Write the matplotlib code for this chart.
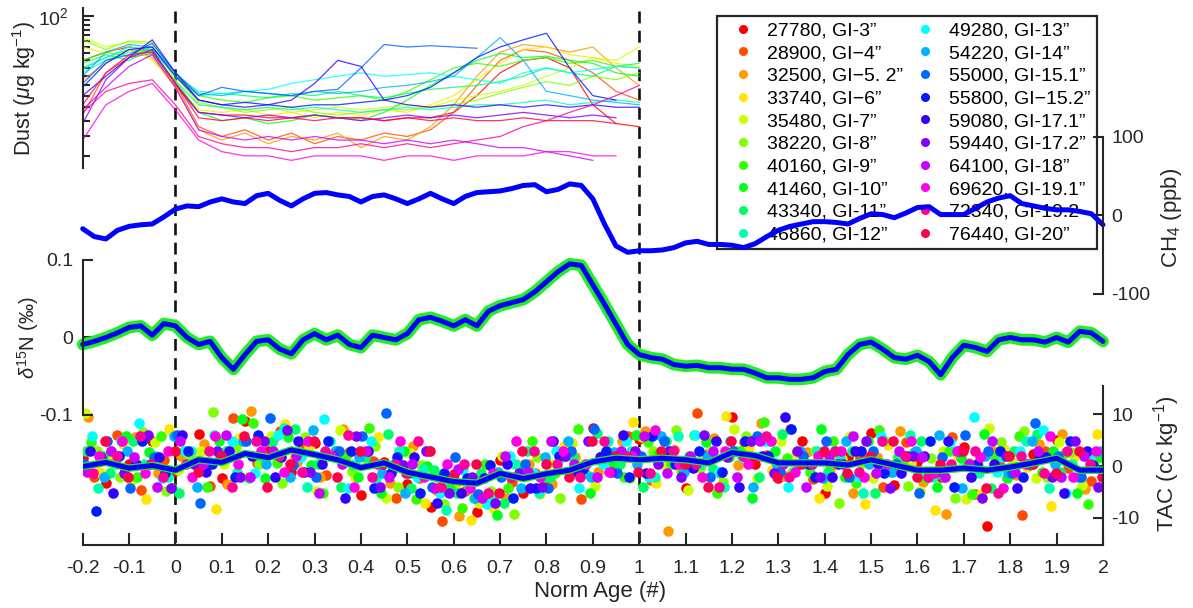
import numpy as np
import matplotlib
matplotlib.use('Agg')
import matplotlib.pyplot as plt
from matplotlib.lines import Line2D
from matplotlib.ticker import NullFormatter, FixedLocator, LogLocator
import colorsys

plt.rcParams['font.family'] = ['Liberation Sans', 'DejaVu Sans']
plt.rcParams['axes.unicode_minus'] = False
plt.rcParams['mathtext.fontset'] = 'custom'
plt.rcParams['mathtext.rm'] = 'Liberation Sans'
plt.rcParams['mathtext.it'] = 'Liberation Sans:italic'
plt.rcParams['mathtext.bf'] = 'Liberation Sans:bold'

# ---------------- data ----------------
gi_labels = ['27780, GI-3\u201d', '28900, GI\u22124\u201d', '32500, GI\u22125. 2\u201d', '33740, GI\u22126\u201d',
             '35480, GI-7\u201d', '38220, GI-8\u201d', '40160, GI-9\u201d', '41460, GI-10\u201d',
             '43340, GI-11\u201d', '46860, GI-12\u201d', '49280, GI-13\u201d', '54220, GI-14\u201d',
             '55000, GI-15.1\u201d', '55800, GI\u221215.2\u201d', '59080, GI-17.1\u201d', '59440, GI-17.2\u201d',
             '64100, GI-18\u201d', '69620, GI-19.1\u201d', '72340, GI-19.2', '76440, GI-20\u201d']

# Dust (ug/kg), age grid -0.2 ... 1.0 step 0.05
dust_age = np.round(np.arange(-0.2, 1.0001, 0.05), 3)
N = None
dust_values = [
    [60, 66, 70, 67, 45, 33, 32, 32, 31, 31, 32, 31, 31, 30, 31, 31, 33, 40, 52, 60, 62, 55, 36, 29, 28],
    [32, 52, 62, 65, 46, 28, 25, 27, 24, 26, 23, 25, 24, 26, 25, 27, 33, 45, 60, 68, 66, 60, 52, 42, 38],
    [48, 58, 68, 62, 44, 27, 24, 26, 23, 25, 24, 26, 22, 25, 24, 28, 36, 50, 66, 72, 70, 66, 70, 55, 45],
    [70, 65, 72, 60, 46, 34, 33, 34, 32, 33, 31, 33, 32, 34, 33, 36, 40, 48, 58, 68, 70, 64, 62, 58, 56],
    [78, 70, 74, 72, 48, 36, 35, 34, 35, 33, 34, 35, 34, 35, 36, 35, 38, 40, 42, 45, 50, 55, 62, 60, 70],
    [76, 68, 75, 74, 50, 37, 35, 33, 34, 35, 33, 32, 33, 34, 34, 35, 36, 38, 41, 44, 47, 45, 50, 48, 52],
    [60, 66, 63, 70, 50, 40, 38, 37, 39, 40, 38, 39, 40, 38, 42, 48, 55, 58, 56, 60, 62, 58, 60, 56, 55],
    [55, 62, 68, 66, 47, 33, 30, 31, 29, 30, 32, 31, 30, 33, 38, 45, 52, 60, 65, 62, 63, 60, 58, 52, 50],
    [58, 64, 60, 68, 50, 40, 41, 40, 39, 41, 40, 42, 40, 39, 41, 43, 44, 45, 47, 50, 55, 52, 50, 56, 58],
    [52, 60, 66, 64, 47, 36, 35, 34, 35, 34, 35, 34, 33, 34, 35, 34, 35, 36, 36, 37, 38, 36, 37, 38, 37],
    [54, 62, 70, 68, 50, 42, 41, 42, 43, 46, 48, 50, 52, 50, 51, 52, 50, 48, 46, 52, 55, 52, 54, 56, 55],
    [50, 66, 72, 70, 52, 41, 40, 42, 41, 40, 42, 41, 42, 44, 45, 47, 50, 62, 78, 60, 42, 40, 38, 37, 36],
    [46, 60, 64, 73, 52, 40, 44, 42, 41, 40, 42, 43, 55, 72, 70, 71, 70, 69, N, N, N, N, N, N, N],
    [44, 58, 68, 70, 50, 38, 36, 37, 36, 35, 36, 36, 37, 38, 40, 44, 52, 62, 70, 76, 82, 55, 40, 38, N],
    [40, 50, 62, 76, 52, 38, 36, 35, 36, 38, 46, 60, 56, 38, 36, 35, 36, 35, 36, 35, 36, 35, 36, 35, 35],
    [29, 48, 62, 68, 46, 33, 32, 31, 32, 31, 32, 31, 30, 31, 32, 31, 32, 31, 32, 33, 32, 31, 32, 31, N],
    [34, 44, 56, 64, 44, 27, 25, 24, 25, 24, 25, 24, 24, 23, 24, 23, 24, 23, 22, 22, 21, 20, 19, N, N],
    [24, 36, 42, 46, 34, 24, 21, 20, 20, 19, 20, 20, 20, 19, 20, 20, 19, 20, 20, 20, 21, 21, 20, 20, N],
    [33, 42, 46, 48, 36, 25, 23, 22, 22, 21, 22, 22, 23, 22, 23, 22, 23, 24, 25, 28, 30, 33, 36, 40, 45],
    [36, 52, 64, 66, 46, 31, 30, 31, 30, 31, 30, 31, 31, 30, 31, 30, 31, 30, 30, 31, 30, 30, 30, 29, N],
]

# CH4 anomaly (ppb), age grid -0.2 ... 2.0 step 0.025
ch4_age = np.round(np.arange(-0.2, 2.0001, 0.025), 3)
ch4_values = [-17, -27, -30, -19, -14, -12, -11, -2, 8,
              12, 11, 17, 21, 17, 15, 25, 28, 19, 12, 21, 28, 29, 26, 24, 17, 24, 26, 21, 15,
              21, 28, 21, 15, 24, 29, 30, 31, 34, 38, 39, 30, 33, 40, 38, 21, -11, -39, -47, -45,
              -45, -44, -41, -35, -33, -37, -37, -38, -41, -36, -27, -19, -14, -11, -8, -8, -9, -11, -4, 2,
              1, -3, 3, 10, 11, 1, 1, 1, 9, 17, 22, 25, 15, 12, 9, 7, 7, 5, 2, -12]

# d15N anomaly (permil), age grid -0.2 ... 2.0 step 0.025
d15n_age = np.round(np.arange(-0.2, 2.0001, 0.025), 3)
d15n_values = [-0.009, -0.005, 0.000, 0.006, 0.013, 0.015, 0.003, 0.018, 0.015,
               0.000, -0.009, -0.005, -0.026, -0.041, -0.022, -0.005, -0.003, -0.015, -0.021,
               -0.003, 0.005, -0.003, 0.003, -0.009, -0.013, 0.003, 0.000, -0.003, 0.005,
               0.023, 0.026, 0.021, 0.015, 0.023, 0.015, 0.034, 0.041, 0.045, 0.049,
               0.059, 0.072, 0.085, 0.095, 0.093, 0.068, 0.043, 0.017, -0.009, -0.022,
               -0.026, -0.028, -0.035, -0.037, -0.036, -0.039, -0.039, -0.041, -0.041, -0.046,
               -0.052, -0.052, -0.054, -0.054, -0.052, -0.044, -0.041, -0.022, -0.009, -0.006,
               -0.015, -0.026, -0.028, -0.023, -0.031, -0.048, -0.026, -0.010, -0.013, -0.018,
               -0.003, 0.000, -0.003, -0.003, -0.006, 0.000, -0.006, 0.008, 0.006, -0.005]

# TAC stack (cc/kg), age grid -0.2 ... 2.0 step 0.05
tac_line_age = np.round(np.arange(-0.2, 2.0001, 0.05), 3)
tac_line_values = [-0.1, 0.7, -0.4, 0.1, -0.8, 1.2, 0.7, 2.4, 1.6, 3.1, 2.2, 1.2, -0.3, 0.6, -1.2,
                   -2.1, -3.0, -3.3, -1.4, -2.4, -1.5, -0.8, 0.8, 1.5, 1.2, 1.5, 1.2, 0.6, 2.6, 2.0,
                   0.6, 0.6, 0.6, 0.2, 1.2, 0.2, -0.8, -0.8, -0.4, -0.8, -0.2, 0.6, 1.5, -0.8, -0.8]

# individual TAC samples per event (cc/kg), sample grid -0.2 ... 1.95 step 0.05 (+ event age offset)
tac_age = np.round(np.arange(-0.2, 1.9501, 0.05), 3)
tac_offset = [0.000, 0.025, 0.012, 0.037, 0.005, 0.030, 0.018, 0.043, 0.008, 0.033,
              0.021, 0.046, 0.003, 0.028, 0.015, 0.040, 0.010, 0.035, 0.023, 0.048]
tac_values = [
    [1.5, -3.2, 0.4, 4.8, -0.9, 6.1, -2.3, 8.7, 2.9, -1.1, 4.4, 1.8, -5.6, 0.7, -3.4, -7.9, -1.6, -8.8, 1.2, -5.1, -2.7, 3.3, 7.4, -0.6, 5.2, 2.1, -4.3, 2.6, 9.5, 0.3, -2.4, 4.9, -5.2, 1.7, 6.3, -3.6, 0.8, -2.2, 3.7, -11.5, -0.4, 2.3, 5.1, -1.9],
    [-2.1, 5.9, -4.7, 1.1, 2.6, -3.8, 9.2, 0.6, 6.7, 3.9, -1.8, 2.7, 0.9, -6.2, -2.4, -10.6, -4.9, 0.2, -3.1, -1.3, 2.8, -6.4, 1.9, 5.8, -2.6, 3.1, 10.3, -1.4, 4.6, 2.2, 7.1, -2.5, 0.5, 1.6, -4.1, 4.7, -2.0, 5.6, -5.3, 0.8, -9.4, 2.9, -0.3, -2.8],
    [9.4, 2.8, 5.6, -1.3, 1.9, 4.2, -3.4, 10.6, 5.3, 0.8, -2.1, 7.2, 2.6, -3.3, 3.8, -4.6, -9.7, -2.2, -6.1, 0.4, -3.5, 1.7, -1.1, 4.9, 6.8, -12.6, 1.6, 5.4, 0.2, 8.3, -1.9, 2.7, -0.5, -5.2, 1.8, 6.7, -3.1, -9.2, 0.6, 2.9, -1.7, 4.3, 6.1, -4.4],
    [-1.2, 4.3, -6.4, 7.1, 1.6, -8.3, 5.4, 2.2, 8.1, 3.6, 2.4, -2.1, 5.5, 0.4, -7.2, -3.1, -10.4, -8.2, 0.3, -5.3, 3.9, -1.6, 2.7, 8.4, -3.3, -0.5, 1.8, 9.6, 3.7, -0.7, 2.5, -6.1, 1.4, -7.4, 4.1, 0.6, -8.5, 1.9, -5.4, 3.2, -0.2, -7.6, 1.7, 6.2],
    [10.2, 1.9, -2.8, 4.7, -0.8, 2.9, 0.4, -2.1, 5.8, 1.6, -4.9, 6.9, 1.8, -6.2, 2.6, -1.4, -4.3, -7.1, 1.9, -2.2, 0.6, 4.4, -3.8, 1.7, 5.6, 0.2, -4.7, 2.8, 7.1, -2.4, 4.8, 0.7, -3.9, 5.7, -2.3, 1.6, -4.8, 2.9, -6.3, 7.3, 0.5, -2.4, 4.6, -3.7],
    [2.8, -2.1, 6.6, -4.9, 1.7, 10.4, 3.6, 0.3, -3.2, 5.6, 1.9, -0.9, 3.8, -4.1, 0.2, -7.3, -2.6, -4.8, -9.3, 1.8, -6.1, 0.4, 4.7, -2.3, 2.8, 6.9, -0.4, -3.1, 5.8, 1.7, -1.2, 2.8, -7.1, 0.6, 4.9, -3.8, 1.6, -6.2, 0.3, 4.6, 6.8, -2.2, 2.7, 0.5],
    [4.6, 0.5, -2.2, 5.7, 2.9, -4.1, 1.8, 8.3, 0.6, 2.7, -5.2, 1.9, 7.3, -0.6, -6.4, -2.3, -8.1, 0.4, -4.2, 4.8, -1.3, 7.2, 1.9, -2.1, 4.7, 0.4, 5.9, -5.1, 2.8, 8.4, 1.6, -1.2, 4.8, -3.3, 6.9, 0.2, -2.4, 2.9, -5.3, 1.8, 5.7, -1.1, 2.6, -7.4],
    [1.9, 5.8, 2.7, -4.2, 0.3, 4.9, 9.1, -2.4, 5.6, 0.2, 2.8, -2.2, -5.1, 2.9, 0.1, -4.3, -6.2, -9.4, -0.7, -2.3, 1.9, -5.2, 0.4, 5.9, 2.6, -1.3, 4.7, 1.8, -6.2, 2.9, 0.3, 7.1, -2.2, 4.9, -1.1, 2.7, -4.1, 1.6, 6.1, -2.3, 0.2, 2.9, -5.1, 1.7],
    [2.9, -1.3, 4.8, 1.9, -5.1, 0.2, 2.8, -2.4, 4.7, 7.2, 0.4, -4.1, 1.8, 6.1, -4.3, -0.8, -5.2, -1.4, -7.2, 2.9, -2.2, 1.8, 6.3, 0.4, -4.1, 4.8, 1.9, -0.6, 2.8, -2.2, 6.2, 0.3, -1.1, 2.9, -5.1, 1.8, 4.9, -2.2, 0.4, -4.2, 2.8, 6.1, -1.2, 1.9],
    [-4.2, 4.9, 0.3, -2.1, 2.8, 5.9, -1.2, 1.9, 7.3, -4.1, 4.8, 0.2, -2.3, 2.9, -0.6, -8.4, -4.2, -6.3, 0.4, -5.1, 1.8, -1.3, 4.9, 2.8, -2.2, 5.8, 0.3, -4.1, 1.9, 4.8, -1.2, 2.9, 1.6, -5.2, 0.4, 5.9, -2.1, 2.8, -1.3, 1.7, 4.8, -4.3, 0.4, 2.7],
    [5.8, 0.4, 8.2, -2.3, 2.9, 0.2, 4.8, -1.3, 5.9, 1.8, 9.1, -4.2, 4.9, 0.3, -2.2, -5.1, -0.7, -7.3, 1.9, -1.4, 2.8, -4.2, 0.3, 4.9, -2.1, 2.8, 5.9, -1.2, 1.7, 4.8, -4.1, 0.2, 2.9, -2.1, 5.8, 1.9, -1.3, 4.7, 9.4, -1.2, 2.8, 6.9, -5.1, 1.8],
    [-2.2, 2.9, 0.3, 5.8, -4.1, 1.9, 4.8, 0.4, -2.1, 6.9, 2.8, 1.7, -1.3, -5.2, 2.9, -2.2, -6.1, -1.1, -4.2, 1.8, 4.9, -2.1, 2.7, 0.3, 5.8, -1.2, 1.9, 4.8, -4.1, 0.2, 2.9, -2.3, 4.8, 0.3, -1.2, 2.8, 5.9, -4.2, 1.9, -1.3, 4.8, 0.4, -2.2, 2.9],
    [0.4, 4.9, -4.2, 1.8, 5.9, -7.1, 1.9, 4.8, 9.3, 0.2, -2.2, 2.9, 5.8, 10.2, -1.3, -4.1, 1.8, -5.3, -2.1, 0.3, -4.2, 2.8, 7.1, -1.3, 1.9, 4.8, 0.4, -2.1, 2.9, 5.8, -1.2, 1.9, 4.8, -2.2, 2.9, 0.3, -5.1, 1.8, 5.9, 2.8, -1.3, 8.2, 1.9, -2.1],
    [-8.6, 1.9, 4.8, -1.3, 2.9, 0.4, -2.2, 5.9, 1.8, -1.2, 4.8, 2.9, -4.2, 1.8, -5.1, -1.3, -2.4, 0.2, -6.1, -4.2, 1.9, -0.6, 2.8, -2.2, 5.8, 0.3, 2.9, -1.2, 4.8, 1.9, 7.1, -2.2, 0.4, 2.8, -1.3, 1.9, 4.8, -4.1, 0.3, 2.9, -2.2, 1.8, 4.9, 0.2],
    [2.9, -5.1, 0.4, 1.8, 5.9, -1.2, 2.8, 1.9, -2.2, 4.8, 0.3, -6.1, 2.9, -1.3, 1.8, -7.2, -5.1, -2.3, 0.4, -4.2, 4.9, -1.2, 1.8, 5.9, -1.3, 2.9, -0.4, 4.8, -4.1, 1.9, 9.4, 0.3, -2.2, 2.8, 0.4, -1.3, 1.9, 4.8, -2.2, 0.3, -4.2, 1.8, -5.1, 2.9],
    [1.8, -1.3, 5.9, -4.2, 0.3, 2.9, -2.2, 4.8, 6.9, -1.2, 1.9, 5.8, -4.1, 0.2, 2.8, -5.2, -2.1, -7.2, -1.4, -4.1, 1.9, 4.8, -1.2, 2.9, 0.3, -2.2, 5.9, 1.8, 4.8, -1.3, 2.9, -2.2, 0.4, 4.8, -4.2, 1.9, -1.2, 2.8, -6.1, 1.9, 0.3, -2.2, 4.9, -4.1],
    [-1.2, 2.9, 1.8, -4.1, 4.8, 0.3, 5.9, -2.2, 2.8, 1.9, -5.1, 0.4, 2.9, -2.2, 0.3, -4.2, -0.6, -6.1, 1.9, -1.2, 4.8, 0.3, -2.2, 2.9, 5.8, -1.3, 1.9, 2.8, -2.2, 4.8, 0.4, -4.1, 1.9, 5.8, -1.3, 2.9, 1.8, -2.2, 0.3, 4.8, -1.2, 2.9, -2.2, 1.9],
    [1.9, 4.8, -1.3, 2.9, -2.2, 5.8, 0.3, 2.9, -1.2, 4.8, 1.9, -4.1, 0.3, 4.9, -2.2, 0.4, -4.2, -1.3, 4.8, -2.2, 2.9, 0.3, -1.2, 1.9, 6.9, 0.4, -2.2, 2.8, 0.3, 4.9, -1.2, 1.9, 2.8, -2.2, 0.4, 4.8, -1.3, 2.9, 1.8, -4.2, 0.3, 5.8, -2.2, 2.9],
    [-1.3, 1.9, 5.8, -2.2, 0.4, 2.9, -4.1, 4.8, 1.9, -1.2, 2.8, 5.9, -2.2, 0.3, 4.8, -4.1, 0.4, -5.2, -2.2, 2.9, 0.3, -2.2, 4.8, 1.9, -1.3, 2.9, 0.4, -4.1, 1.9, 5.8, -2.2, 0.3, 2.9, -1.2, 4.8, 1.9, -2.2, 0.4, 2.9, -5.1, 1.9, -1.3, 2.8, 0.4],
    [4.8, -2.2, 0.4, 2.9, -1.2, 1.9, 5.8, -4.1, 0.3, 4.8, -2.2, 2.9, 0.4, -1.3, 2.9, -2.2, 0.3, -5.1, 2.9, 0.4, -2.2, 4.8, 1.9, -1.2, 2.9, 0.3, -4.1, 4.9, 1.8, -2.2, 0.4, 2.9, -1.3, 1.9, 4.8, -2.2, 0.3, 2.9, -4.2, 1.9, 0.4, -1.3, 2.9, -2.2],
]

# ---------------- styling ----------------
colors = [colorsys.hsv_to_rgb(k / 20.0, 1, 1) for k in range(len(gi_labels))]
AX = '#262626'
SPW = 1.5
W, H = 1193, 608
XL, XR = 82.7, 1103

fig = plt.figure(figsize=(W / 100, H / 100), dpi=100)


def fax(y0, y1, x0=XL, x1=XR):
    a = fig.add_axes([x0 / W, 1 - y1 / H, (x1 - x0) / W, (y1 - y0) / H])
    a.patch.set_visible(False)
    for s in a.spines.values():
        s.set_visible(False)
        s.set_color(AX)
        s.set_linewidth(SPW)
    a.set_xlim(-0.2, 2.0)
    a.tick_params(axis='x', which='both', bottom=False, top=False, labelbottom=False)
    a.tick_params(axis='y', which='both', left=False, right=False, labelleft=False, labelright=False)
    return a


# overlay for dashed lines
ax_ov = fax(10, 543)
ax_ov.set_ylim(0, 1)
ax_ov.axis('off')
for xv in (0, 1):
    ax_ov.plot([xv, xv], [0, 1], color='#111111', lw=1.9, ls=(0, (4.5, 2.8)))

# TAC panel
ax_tac = fax(386, 545)
ax_tac.set_ylim(-15.2, 15.4)
ax_tac.spines['bottom'].set_visible(True)
ax_tac.spines['right'].set_visible(True)
ax_tac.set_xticks(np.round(np.arange(-0.2, 2.0001, 0.1), 2))
ax_tac.set_xticklabels(['-0.2', '-0.1', '0'] + ['%.1f' % v for v in np.arange(0.1, 0.95, 0.1)] + ['1'] +
                       ['%.1f' % v for v in np.arange(1.1, 1.95, 0.1)] + ['2'])
ax_tac.tick_params(axis='x', which='major', bottom=True, labelbottom=True, direction='in',
                   length=8.5, width=SPW, color=AX, labelsize=14, labelcolor=AX, pad=11)
ax_tac.yaxis.set_ticks_position('right')
ax_tac.set_yticks([-10, 0, 10])
ax_tac.tick_params(axis='y', which='major', right=True, labelright=True, direction='in',
                   length=7, width=SPW, color=AX, labelsize=14, labelcolor=AX, pad=6)
for k, row in enumerate(tac_values):
    m = min(len(row), len(tac_age))
    ax_tac.plot(tac_age[:m] + tac_offset[k], row[:m], ls='none', marker='o', ms=7.6,
                mec='none', color=colors[k], clip_on=True)
ax_tac.plot(tac_line_age, tac_line_values, color='#22e622', lw=5.4, solid_capstyle='round', zorder=3)
ax_tac.plot(tac_line_age, tac_line_values, color='#0000ff', lw=3.6, solid_capstyle='round', zorder=4)

# d15N panel
ax_n = fax(260, 415)
ax_n.set_ylim(-0.1, 0.1)
ax_n.spines['left'].set_visible(True)
ax_n.set_yticks([-0.1, 0, 0.1])
ax_n.set_yticklabels(['-0.1', '0', '0.1'])
ax_n.tick_params(axis='y', which='major', left=True, labelleft=True, direction='in',
                 length=7, width=SPW, color=AX, labelsize=14, labelcolor=AX, pad=7)
ax_n.plot(d15n_age, d15n_values, color='#22ee22', lw=8.5, solid_capstyle='round', clip_on=False)
ax_n.plot(d15n_age, d15n_values, color='#0000ff', lw=3.6, solid_capstyle='round', clip_on=False)

# Dust panel (log)
ax_d = fax(8, 168)
ax_d.set_yscale('log')
ax_d.set_ylim(17.4, 109.6)
ax_d.spines['left'].set_visible(True)
ax_d.yaxis.set_major_locator(FixedLocator([100]))
ax_d.set_yticklabels(['$10^2$'])
ax_d.yaxis.set_minor_locator(LogLocator(base=10, subs=np.arange(2, 10, 0.5), numticks=40))
ax_d.yaxis.set_minor_formatter(NullFormatter())
ax_d.tick_params(axis='y', which='major', left=True, labelleft=True, direction='in',
                 length=8, width=SPW, color=AX, labelsize=14, labelcolor=AX, pad=10)
ax_d.tick_params(axis='y', which='minor', left=True, direction='in', length=5, width=SPW, color=AX)
ax_d.tick_params(axis='x', which='both', bottom=False, labelbottom=False)
for k, row in enumerate(dust_values):
    vals = np.array(row, dtype=float)
    ax_d.plot(dust_age, vals, color=colors[k], lw=0.9, alpha=0.8)

handles = [Line2D([], [], ls='none', marker='o', ms=6.5, mec='none', color=c) for c in colors]
leg = ax_d.legend(handles, gi_labels, ncol=2, loc='upper left',
                  bbox_to_anchor=(717 / W, 1 - 16 / H), bbox_transform=fig.transFigure,
                  frameon=True, fancybox=False, fontsize=14, labelspacing=0.26,
                  handlelength=2.05, handletextpad=0.2, columnspacing=0.15,
                  borderpad=0.3, borderaxespad=0, framealpha=1)
leg.get_frame().set_edgecolor(AX)
leg.get_frame().set_linewidth(1.6)

# CH4 panel
ax_c = fax(136.7, 294)
ax_c.set_ylim(-100, 100)
ax_c.spines['right'].set_visible(True)
ax_c.yaxis.set_ticks_position('right')
ax_c.set_yticks([-100, 0, 100])
ax_c.tick_params(axis='y', which='major', right=True, labelright=True, direction='in',
                 length=7, width=SPW, color=AX, labelsize=14, labelcolor=AX, pad=6)
ax_c.plot(ch4_age, ch4_values, color='#0000ff', lw=3.6, solid_capstyle='round', clip_on=False)

# axis labels
fig.text(600 / W, 1 - 591 / H, 'Norm Age (#)', ha='center', va='center', fontsize=16, color=AX)
fig.text(24 / W, 1 - 88 / H, r'Dust ($\mu$g kg$^{-1}$)', rotation=90, ha='center', va='center',
         fontsize=15.5, color=AX)
fig.text(28 / W, 1 - 337 / H, r'$\delta^{15}$N (‰)', rotation=90, ha='center', va='center',
         fontsize=14.5, color=AX)
fig.text(1172 / W, 1 - 218 / H, r'CH$_4$ (ppb)', rotation=90, ha='center', va='center',
         fontsize=16, color=AX)
fig.text(1167 / W, 1 - 464 / H, r'TAC (cc kg$^{-1}$)', rotation=90, ha='center', va='center',
         fontsize=16, color=AX)

fig.savefig('out.png', dpi=100)
